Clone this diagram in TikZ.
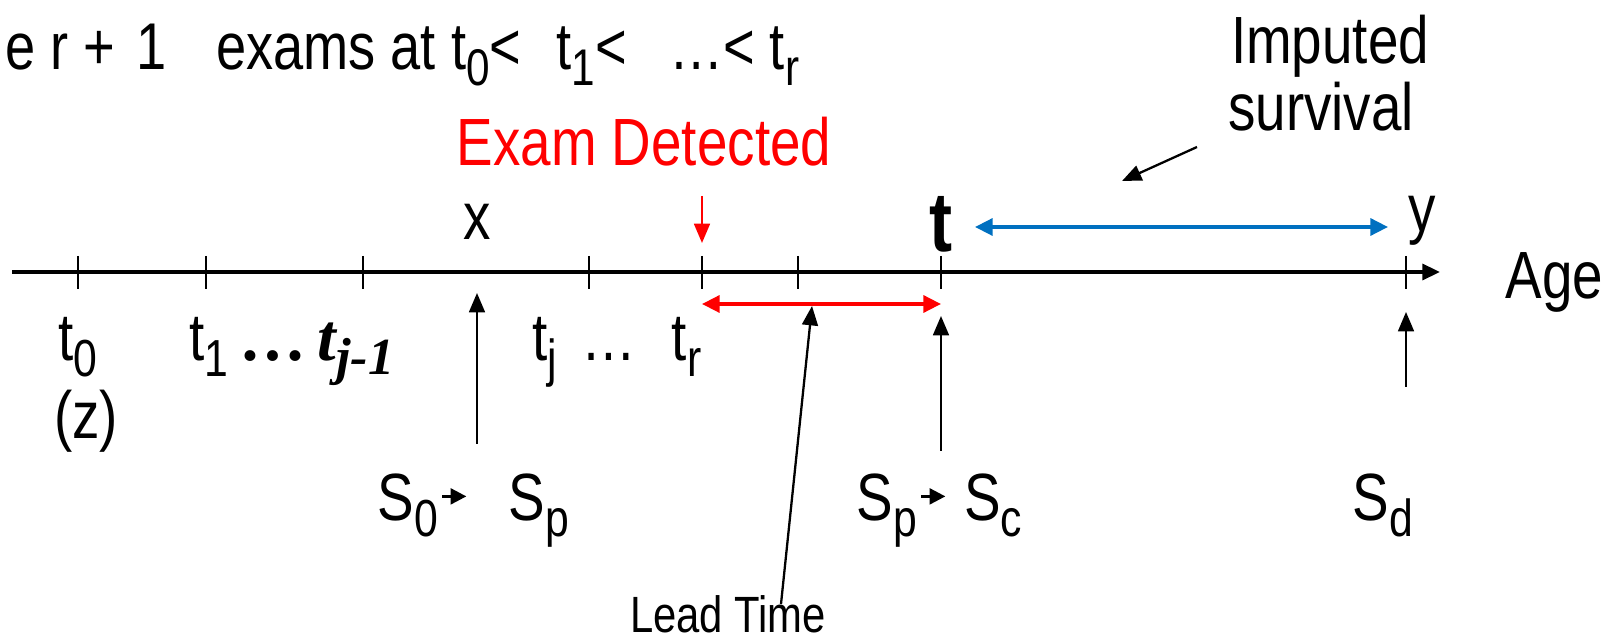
\documentclass[tikz,border=0pt]{standalone}
\usepackage{fontspec}
\setmainfont{Liberation Sans}[FakeStretch=0.82]
\newfontfamily\timesbi{Liberation Serif}
\usepackage{tikz}
\usetikzlibrary{arrows.meta, positioning}
\definecolor{survblue}{RGB}{0,112,192}
\newcommand{\lo}[1]{\raisebox{-0.45ex}{\scalebox{0.78}{#1}}}

\begin{document}
\begin{tikzpicture}[
    x=0.01cm, y=-0.01cm,
    lbl/.style={inner sep=0pt, font=\fontsize{19}{22}\selectfont},
    axisline/.style={line width=1pt, -{Triangle[length=5pt,width=4.5pt]}},
    tickmark/.style={line width=0.5pt},
    pointer/.style={line width=0.65pt, -{Triangle[length=5.5pt,width=4.5pt]}},
    smallarr/.style={line width=0.8pt, -{Triangle[length=4.5pt,width=4.5pt]}},
    spanline/.style={line width=1pt, {Triangle[length=5pt,width=4.8pt]}-{Triangle[length=5pt,width=4.8pt]}}
]
\useasboundingbox (0,0) rectangle (1618,640);

% the age axis
\coordinate (ax0) at (12,272);
\coordinate (ax1) at (1440,272);
\draw[axisline] (ax0) -- (ax1);
\foreach \x in {78, 206, 363, 589, 702, 798, 941, 1406}
    \draw[tickmark] (\x,256) -- (\x,289);
\node[lbl, anchor=base west] (age) at (1505,299) {Age};

% heading
\node[lbl, anchor=base west, font=\fontsize{18.8}{22}\selectfont] (head) at (5,70)
    {e r +\hspace{6pt}1\hspace{14pt}exams at t\lo{0}<\hspace{10pt}t\lo{1}<\hspace{12pt}…< t\lo{r}};

% exam times under the axis
\node[lbl, anchor=base] (t0) at (78,361) {t\lo{0}};
\node[lbl, anchor=base] (z) at (86,439) {(z)};
\node[lbl, anchor=base] (t1) at (292,361)
    {t\lo{1}{\timesbi\bfseries\,…\,\itshape t\lo{j-1}}};
\node[lbl, anchor=base] (tj) at (617,361) {t\lo{j}\hspace{7pt}…\hspace{10pt}t\lo{r}};

% detection
\node[lbl, red, anchor=base] (exam) at (644,166) {Exam Detected};
\coordinate (detTop) at (702,196);
\coordinate (detBot) at (702,243);
\draw[pointer, red] (detTop) -- (detBot);

% lead time
\coordinate (leadL) at (702,304);
\coordinate (leadR) at (941,304);
\draw[spanline, red] (leadL) -- (leadR);
\node[inner sep=0pt, anchor=base, font=\fontsize{14.5}{16}\selectfont] (lead) at (728,632) {Lead Time};
\coordinate (leadFoot) at (781,604);
\coordinate (leadTip) at (812,306);
\draw[pointer] (leadFoot) -- (leadTip);

% onset, clinical, death
\node[lbl, anchor=base] (xlab) at (477,240) {x};
\coordinate (xFoot) at (477,444);
\coordinate (xTip) at (477,293);
\draw[pointer] (xFoot) -- (xTip);

\node[lbl, anchor=base, font=\bfseries\fontsize{24}{26}\selectfont] (tlab) at (941,252) {t};
\coordinate (tFoot) at (941,451);
\coordinate (tTip) at (941,316);
\draw[pointer] (tFoot) -- (tTip);

\node[lbl, anchor=base] (ylab) at (1422,232) {y};
\coordinate (yFoot) at (1406,387);
\coordinate (yTip) at (1406,312);
\draw[pointer] (yFoot) -- (yTip);

% imputed survival
\coordinate (survL) at (975,227);
\coordinate (survR) at (1388,227);
\draw[spanline, survblue] (survL) -- (survR);
\node[lbl, anchor=base] (imp) at (1330,64) {Imputed};
\node[lbl, anchor=base] (surv) at (1321,131) {survival};
\coordinate (impFrom) at (1197,147);
\coordinate (impTo) at (1122,181);
\draw[pointer] (impFrom) -- (impTo);

% state changes
\node[lbl, anchor=base] (s0) at (408,521) {S\lo{0}};
\node[lbl, anchor=base] (sp) at (539,521) {S\lo{p}};
\draw[smallarr] ([xshift=1pt,yshift=7pt]s0.base east) -- ++(24,0);
\node[lbl, anchor=base] (sp2) at (887,521) {S\lo{p}};
\node[lbl, anchor=base] (sc) at (993,521) {S\lo{c}};
\draw[smallarr] ([xshift=1pt,yshift=7pt]sp2.base east) -- ++(24,0);
\node[lbl, anchor=base] (sd) at (1383,521) {S\lo{d}};
\end{tikzpicture}
\end{document}
